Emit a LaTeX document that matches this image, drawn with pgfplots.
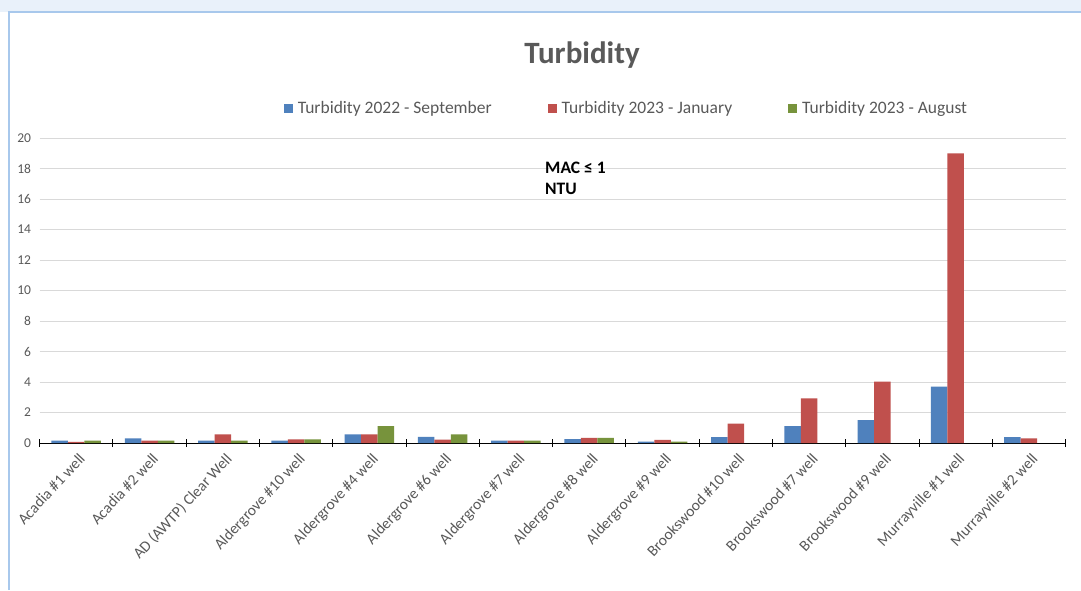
\documentclass[border=0pt]{standalone}
\usepackage{pgfplots}
\pgfplotsset{compat=1.18}
\usepackage{fontspec}
\setmainfont{Carlito}
\definecolor{cblue}{HTML}{4F81BD}
\definecolor{cred}{HTML}{C0504D}
\definecolor{cgreen}{HTML}{77933C}
\definecolor{txt}{HTML}{595959}
\definecolor{gridc}{HTML}{D9D9D9}
\definecolor{frame}{HTML}{A8C8EC}
\begin{document}
\begin{tikzpicture}[x=1pt,y=1pt]
\useasboundingbox (0,0) rectangle (1081,590);
\fill[white] (0,0) rectangle (1081,590);
\fill[frame!25] (0,578) rectangle (1081,590);
\draw[frame, line width=2pt] (9,0) -- (9,578) -- (1081,578);
\begin{axis}[
  at={(39.6pt,147pt)}, anchor=south west,
  scale only axis, width=1026pt, height=305pt,
  ybar=0pt, bar width=16.5pt,
  xmin=-0.5, xmax=13.5, ymin=0, ymax=20,
  xtick={0,...,13},
  xticklabels={Acadia \#1 well, Acadia \#2 well, AD (AWTP) Clear Well, Aldergrove \#10 well, Aldergrove \#4 well, Aldergrove \#6 well, Aldergrove \#7 well, Aldergrove \#8 well, Aldergrove \#9 well, Brookswood \#10 well, Brookswood \#7 well, Brookswood \#9 well, Murrayville \#1 well, Murrayville \#2 well},
  minor xtick={-0.5,0.5,...,13.5},
  ytick={0,2,...,20},
  major tick length=0pt,
  minor tick length=8pt,
  xtick align=center,
  minor x tick style={black, line width=0.8pt},
  axis x line=bottom, axis y line=left,
  x axis line style={-, black, line width=1pt},
  y axis line style={draw=none},
  ymajorgrids, grid style={gridc, line width=0.6pt},
  /pgf/number format/assume math mode=true,
  yticklabel style={font=\fontsize{13.5}{15}\selectfont, text=txt, xshift=-5pt},
  xticklabel style={rotate=47, anchor=north east, font=\fontsize{15.5}{17}\selectfont, text=txt, yshift=-4pt, xshift=-2pt},
  legend style={at={(0.572,1.098)}, anchor=center, draw=none, fill=none,
    font=\fontsize{17.5}{19}\selectfont, text=txt, legend columns=3,
    /tikz/every odd column/.append style={column sep=3pt},
    /tikz/every even column/.append style={column sep=54pt}},
  legend image code/.code={\fill[#1] (0pt,-4.5pt) rectangle (9pt,4.5pt);},
  clip=false,
]
\addplot[fill=cblue, draw=none] coordinates {(0,0.15) (1,0.3) (2,0.15) (3,0.15) (4,0.57) (5,0.4) (6,0.15) (7,0.26) (8,0.09) (9,0.39) (10,1.11) (11,1.5) (12,3.69) (13,0.39)};
\addplot[fill=cred, draw=none] coordinates {(0,0.07) (1,0.15) (2,0.57) (3,0.24) (4,0.57) (5,0.22) (6,0.15) (7,0.33) (8,0.2) (9,1.27) (10,2.92) (11,4.02) (12,19.0) (13,0.3)};
\addplot[fill=cgreen, draw=none] coordinates {(0,0.15) (1,0.15) (2,0.15) (3,0.24) (4,1.1) (5,0.57) (6,0.15) (7,0.33) (8,0.09)};
\legend{Turbidity 2022 - September, Turbidity 2023 - January, Turbidity 2023 - August}
\end{axis}
\node[font=\fontsize{31}{34}\selectfont\bfseries, text=txt] at (582,535) {Turbidity};
\node[font=\fontsize{17.5}{20.5}\selectfont\bfseries, anchor=north west, align=left, inner sep=0pt] at (545,428) {MAC ≤ 1\\NTU};
\end{tikzpicture}
\end{document}
